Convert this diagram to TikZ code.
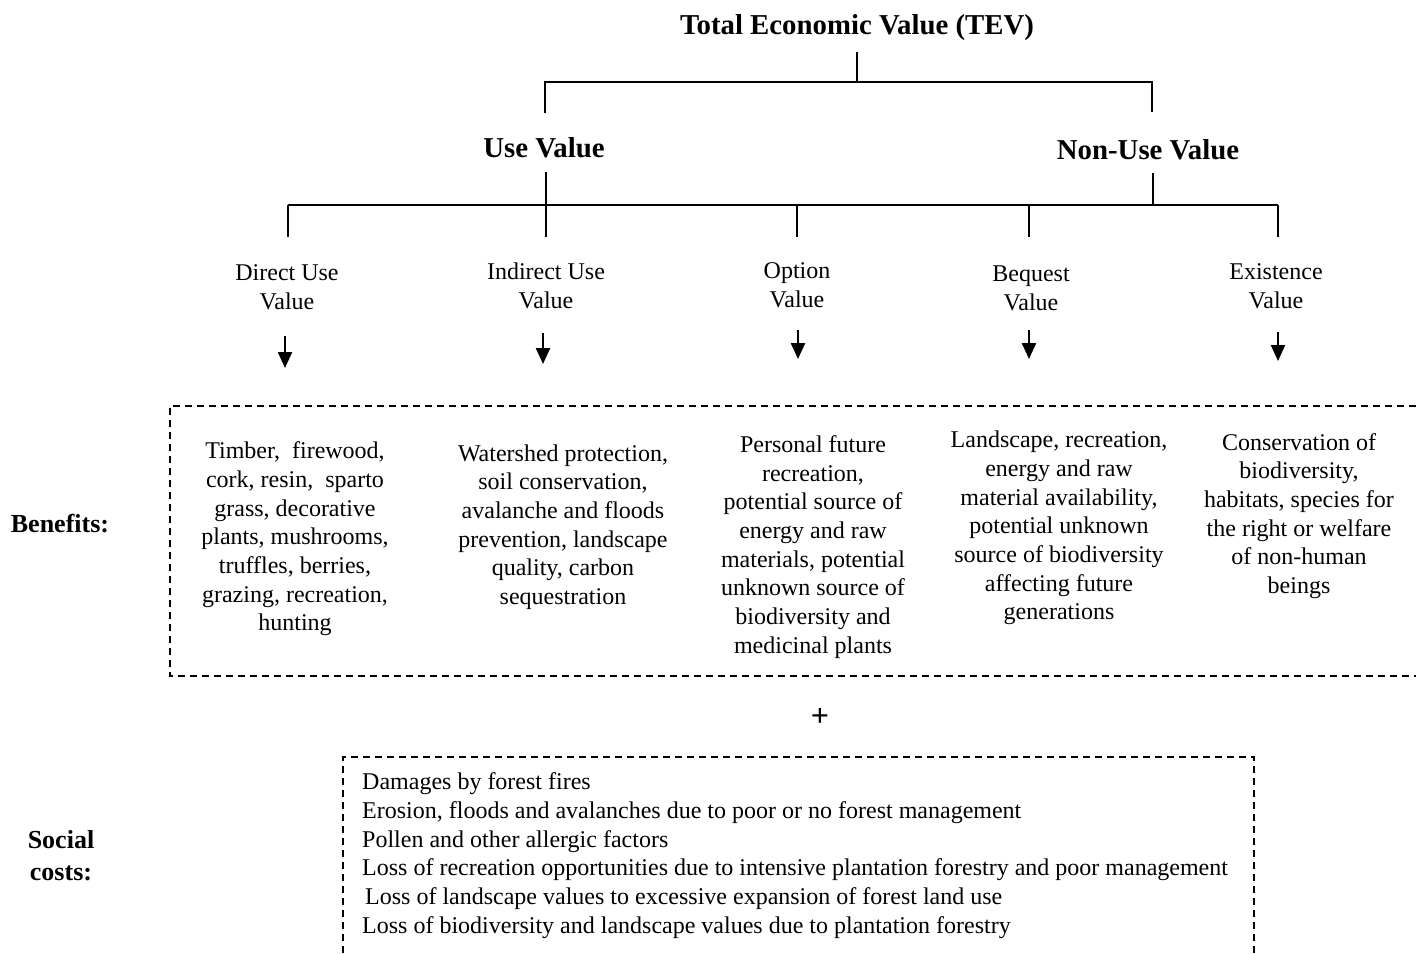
\documentclass[tikz,border=0pt]{standalone}
\usepackage{fontspec}
\setmainfont{Liberation Serif}
\usetikzlibrary{arrows.meta}
\begin{document}
\begin{tikzpicture}[x=1pt,y=-1pt,
  body/.style={font=\fontsize{24}{28.7}\selectfont, align=center, inner sep=0pt},
  head/.style={font=\fontsize{28.8}{34}\selectfont\bfseries, inner sep=0pt},
  side/.style={font=\fontsize{26}{32}\selectfont\bfseries, align=center, inner sep=0pt},
  tree/.style={line width=2.2pt},
  dashbox/.style={line width=1.8pt, dash pattern=on 7pt off 5pt},
  arr/.style={line width=2.4pt, -{Triangle[width=14pt,length=16pt]}}]
\useasboundingbox (0,0) rectangle (1416,953);

% headings
\node[head] (tev) at (857,28) {Total Economic Value (TEV)};
\node[head] (use) at (544,148) {Use Value};
\node[head] (nonuse) at (1148,150) {Non-Use Value};

% tree coordinates
\coordinate (t0) at (857,52);
\coordinate (t1) at (857,82);
\coordinate (tl) at (545,82);
\coordinate (tr) at (1152,82);
\coordinate (tlb) at (545,113);
\coordinate (trb) at (1152,112);
\coordinate (u0) at (546,172);
\coordinate (u1) at (546,205);
\coordinate (n0) at (1153,173);
\coordinate (n1) at (1153,205);
\coordinate (h1) at (288,205);
\coordinate (h5) at (1278,205);
\foreach \i/\x in {1/288,2/546,3/797,4/1029,5/1278}{
  \coordinate (d\i a) at (\x,205);
  \coordinate (d\i b) at (\x,237);
}
\draw[tree] (t0) -- (t1);
\draw[tree] (tlb) -- (tl) -- (tr) -- (trb);
\draw[tree] (u0) -- (u1);
\draw[tree] (n0) -- (n1);
\draw[tree] (h1) -- (h5);
\foreach \i in {1,...,5}{\draw[tree] (d\i a) -- (d\i b);}

% value labels
\node[body] (dir) at (287,287) {Direct Use\\Value};
\node[body] (ind) at (546,286) {Indirect Use\\Value};
\node[body] (opt) at (797,285) {Option\\Value};
\node[body] (beq) at (1031,288) {Bequest\\Value};
\node[body] (exi) at (1276,286) {Existence\\Value};

% arrows
\coordinate (a1a) at (285,336); \coordinate (a1b) at (285,368);
\coordinate (a2a) at (543,333); \coordinate (a2b) at (543,364);
\coordinate (a3a) at (798,330); \coordinate (a3b) at (798,359);
\coordinate (a4a) at (1029,330); \coordinate (a4b) at (1029,359);
\coordinate (a5a) at (1278,332); \coordinate (a5b) at (1278,361);
\foreach \i in {1,...,5}{\draw[arr] (a\i a) -- (a\i b);}

% benefits box
\coordinate (b1) at (1416,406);
\coordinate (b2) at (170,406);
\coordinate (b3) at (170,676);
\coordinate (b4) at (1416,676);
\draw[dashbox] (b1) -- (b2) -- (b3) -- (b4);

\node[side] (benefits) at (60,524) {Benefits:};

\node[body] (c1) at (295,539) {Timber,\ \ firewood,\\cork, resin,\ \ sparto\\grass, decorative\\plants, mushrooms,\\truffles, berries,\\grazing, recreation,\\hunting};
\node[body] (c2) at (563,527) {Watershed protection,\\soil conservation,\\avalanche and floods\\prevention, landscape\\quality, carbon\\sequestration};
\node[body] (c3) at (813,547) {Personal future\\recreation,\\potential source of\\energy and raw\\materials, potential\\unknown source of\\biodiversity and\\medicinal plants};
\node[body] (c4) at (1059,528) {Landscape, recreation,\\energy and raw\\material availability,\\potential unknown\\source of biodiversity\\affecting future\\generations};
\node[body] (c5) at (1299,516) {Conservation of\\biodiversity,\\habitats, species for\\the right or welfare\\of non-human\\beings};

\node[side, font=\fontsize{32}{36}\selectfont\bfseries] (plus) at (820,717) {+};

% social costs box
\coordinate (s1) at (343,953);
\coordinate (s2) at (343,757);
\coordinate (s3) at (1254,757);
\coordinate (s4) at (1254,953);
\draw[dashbox] (s1) -- (s2) -- (s3) -- (s4);

\node[side] (social) at (61,856) {Social\\costs:};

\node[body, align=left, anchor=west] (costs) at (362,855.5) {Damages by forest fires\\Erosion, floods and avalanches due to poor or no forest management\\Pollen and other allergic factors\\Loss of recreation opportunities due to intensive plantation forestry and poor management\\\hspace*{3pt}Loss of landscape values to excessive expansion of forest land use\\Loss of biodiversity and landscape values due to plantation forestry};
\end{tikzpicture}
\end{document}
